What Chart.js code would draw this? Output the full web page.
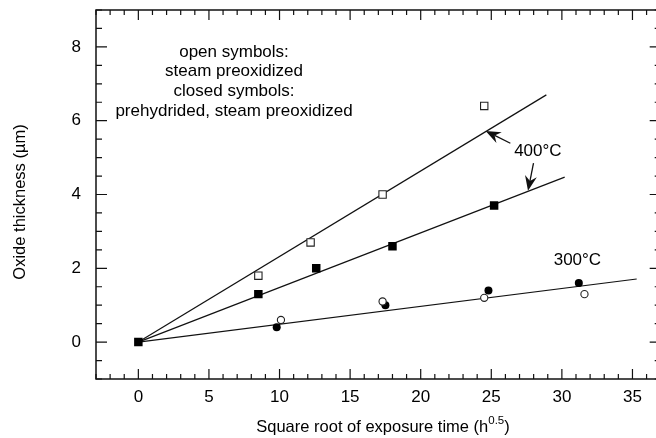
<!DOCTYPE html>
<html>
<head>
<meta charset="utf-8">
<script src="https://cdn.jsdelivr.net/npm/chart.js@4"></script>
<style>
  html, body { margin: 0; padding: 0; background: #fff; overflow: hidden; }
  #wrap { width: 656px; height: 438px; overflow: hidden; position: relative; }
  #oxide { position: absolute; left: 0; top: 0; width: 667px; height: 438px; }
</style>
</head>
<body>
<div id="wrap"><canvas id="oxide" width="667" height="438"></canvas></div>
<script>
// axis ticks
const xTicks = [0, 5, 10, 15, 20, 25, 30, 35];
const yTicks = [0, 2, 4, 6, 8];

// 400°C, steam preoxidized (open squares)
const open400X = [8.5, 12.2, 17.3, 24.5];
const open400Y = [1.8, 2.7, 4.0, 6.4];
// 400°C, prehydrided + steam preoxidized (closed squares)
const closed400X = [0, 8.5, 12.6, 18.0, 25.2];
const closed400Y = [0, 1.3, 2.0, 2.6, 3.7];
// 300°C, steam preoxidized (open circles)
const open300X = [10.1, 17.3, 24.5, 31.6];
const open300Y = [0.6, 1.1, 1.2, 1.3];
// 300°C, prehydrided + steam preoxidized (closed circles)
const closed300X = [9.8, 17.5, 24.8, 31.2];
const closed300Y = [0.4, 1.0, 1.4, 1.6];

// linear fits through the origin: end points
const fitEndX = [28.9, 30.2, 35.3];
const fitEndY = [6.7, 4.47, 1.71];

const FONT = '"Liberation Sans", Arial, Helvetica, sans-serif';

function pts(xs, ys) {
  return xs.map(function(x, i) { return { x: x, y: ys[i] }; });
}

var datasets = fitEndX.map(function(ex, i) {
  return {
    type: 'line',
    data: [{ x: 0, y: 0 }, { x: ex, y: fitEndY[i] }],
    borderColor: '#111',
    borderWidth: 1.2,
    pointRadius: 0,
    fill: false,
    order: 2
  };
});
datasets.push(
  { data: pts(open400X, open400Y), pointStyle: 'rect', pointRadius: 5.2,
    backgroundColor: '#fff', borderColor: '#222', borderWidth: 1.1, order: 1 },
  { data: pts(closed400X, closed400Y), pointStyle: 'rect', pointRadius: 6,
    backgroundColor: '#000', borderColor: '#000', borderWidth: 0, order: 1 },
  { data: pts(open300X, open300Y), pointStyle: 'circle', pointRadius: 3.6,
    backgroundColor: '#fff', borderColor: '#222', borderWidth: 1.1, order: 1 },
  { data: pts(closed300X, closed300Y), pointStyle: 'circle', pointRadius: 4,
    backgroundColor: '#000', borderColor: '#000', borderWidth: 0, order: 1 }
);

function arrow(ctx, x1, y1, x2, y2) {
  var a = Math.atan2(y2 - y1, x2 - x1);
  var len = 15, half = 6, notch = 10;
  ctx.beginPath();
  ctx.moveTo(x1, y1);
  ctx.lineTo(x2 - Math.cos(a) * notch, y2 - Math.sin(a) * notch);
  ctx.stroke();
  ctx.save();
  ctx.translate(x2, y2);
  ctx.rotate(a);
  ctx.beginPath();
  ctx.moveTo(0, 0);
  ctx.lineTo(-len, -half);
  ctx.lineTo(-notch, 0);
  ctx.lineTo(-len, half);
  ctx.closePath();
  ctx.fill();
  ctx.restore();
}

const frame = {
  id: 'frame',
  afterDraw: function(chart) {
    var ctx = chart.ctx, a = chart.chartArea;
    var xs = chart.scales.x, ys = chart.scales.y;
    ctx.save();
    ctx.strokeStyle = '#111';
    ctx.fillStyle = '#111';

    // box (right side ends up just past the visible edge)
    ctx.lineWidth = 1.5;
    ctx.strokeRect(a.left, a.top, a.right - a.left, a.bottom - a.top);

    // inward ticks on all four sides
    ctx.lineWidth = 1.2;
    ctx.beginPath();
    for (var v = -3; v <= 37; v++) {
      var px = xs.getPixelForValue(v);
      var l = (v % 5 === 0) ? 10 : 5;
      ctx.moveTo(px, a.bottom); ctx.lineTo(px, a.bottom - l);
      ctx.moveTo(px, a.top); ctx.lineTo(px, a.top + l);
    }
    for (var k = -2; k <= 18; k++) {
      var yv = k / 2;
      var py = ys.getPixelForValue(yv);
      var ll = (k % 4 === 0) ? 11 : 6;
      ctx.moveTo(a.left, py); ctx.lineTo(a.left + ll, py);
      ctx.moveTo(a.right, py); ctx.lineTo(a.right - ll, py);
    }
    ctx.stroke();

    // arrows to the 400°C fits
    ctx.lineWidth = 1.3;
    arrow(ctx, xs.getPixelForValue(26.35), ys.getPixelForValue(5.39),
               xs.getPixelForValue(24.6), ys.getPixelForValue(5.72));
    arrow(ctx, xs.getPixelForValue(27.99), ys.getPixelForValue(4.85),
               xs.getPixelForValue(27.6), ys.getPixelForValue(4.1));

    // labels
    ctx.fillStyle = '#000';
    ctx.font = '17px ' + FONT;
    ctx.textAlign = 'center';
    ctx.textBaseline = 'middle';
    ctx.fillText('400°C', xs.getPixelForValue(28.3), ys.getPixelForValue(5.18));
    ctx.fillText('300°C', xs.getPixelForValue(31.1), ys.getPixelForValue(2.22));

    var note = ['open symbols:', 'steam preoxidized', 'closed symbols:',
                'prehydrided, steam preoxidized'];
    note.forEach(function(t, i) {
      ctx.fillText(t, 234, 52 + i * 19.7);
    });

    // axis titles
    ctx.font = '16.5px ' + FONT;
    ctx.textBaseline = 'alphabetic';
    ctx.textAlign = 'left';
    var main = 'Square root of exposure time (h';
    var sup = '0.5', tail = ')';
    var wMain = ctx.measureText(main).width;
    var wTail = ctx.measureText(tail).width;
    ctx.font = '11.5px ' + FONT;
    var wSup = ctx.measureText(sup).width;
    var x0 = 383 - (wMain + wSup + wTail) / 2;
    ctx.font = '16.5px ' + FONT;
    ctx.fillText(main, x0, 432);
    ctx.fillText(tail, x0 + wMain + wSup, 432);
    ctx.font = '11.5px ' + FONT;
    ctx.fillText(sup, x0 + wMain, 424);

    ctx.font = '16.5px ' + FONT;
    ctx.translate(25, 202);
    ctx.rotate(-Math.PI / 2);
    ctx.textAlign = 'center';
    ctx.fillText('Oxide thickness (\u00b5m)', 0, 0);
    ctx.restore();
  }
};

new Chart(document.getElementById('oxide'), {
  type: 'scatter',
  data: { datasets: datasets },
  options: {
    responsive: false,
    animation: false,
    layout: { padding: { top: 10, right: 0, left: 0, bottom: 0 } },
    plugins: { legend: { display: false }, tooltip: { enabled: false } },
    scales: {
      x: {
        type: 'linear', min: -3, max: 37,
        grid: { display: false, drawTicks: false },
        border: { display: false },
        afterFit: function(s) {
          s.height = 59;
          s.paddingLeft = 0; s.paddingRight = 0;
        },
        afterBuildTicks: function(s) { s.ticks = xTicks.map(function(v) { return { value: v }; }); },
        ticks: { color: '#000', padding: 8, maxRotation: 0, font: { family: FONT, size: 17 } }
      },
      y: {
        type: 'linear', min: -1, max: 9,
        grid: { display: false, drawTicks: false },
        border: { display: false },
        afterFit: function(s) {
          s.width = 96;
          s.paddingTop = 0; s.paddingBottom = 0;
        },
        afterBuildTicks: function(s) { s.ticks = yTicks.map(function(v) { return { value: v }; }); },
        ticks: { color: '#000', padding: 15, font: { family: FONT, size: 17 } }
      }
    }
  },
  plugins: [frame]
});
</script>
</body>
</html>
